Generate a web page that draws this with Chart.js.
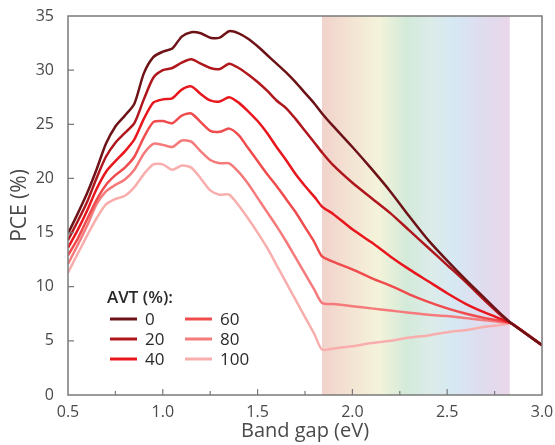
<!DOCTYPE html>
<html>
<head>
<meta charset="utf-8">
<script src="https://cdn.jsdelivr.net/npm/chart.js@4/dist/chart.umd.min.js"></script>
<style>
  html, body { margin: 0; padding: 0; background: #ffffff; }
  #wrap { position: relative; width: 555px; height: 445px; }
</style>
</head>
<body>
<div id="wrap"><canvas id="c" width="555" height="445"></canvas></div>
<script>
// ---------- data ----------
const bandGap = [0.5,0.55,0.6,0.65,0.7,0.75,0.8,0.85,0.9,0.95,
                 1.0,1.05,1.1,1.15,1.2,1.25,1.3,1.35,1.4,1.45,
                 1.5,1.55,1.6,1.65,1.7,1.75,1.8,1.84,
                 1.9,2.0,2.1,2.2,2.3,2.4,2.5,2.6,2.7,2.8,2.84,3.0];

const avtLabels = ['0','20','40','60','80','100'];

const pceAvt0   = [14.9,16.7,18.6,20.8,23.2,24.8,25.8,26.9,29.7,31.2,
                   31.7,32.0,33.1,33.5,33.4,33.0,33.0,33.6,33.4,32.9,
                   32.2,31.4,30.6,29.8,28.9,27.9,26.9,26.0,
                   24.8,22.9,20.9,18.8,16.5,14.3,12.4,10.6,8.9,7.2,6.6,4.6];
const pceAvt20  = [14.3,16.0,17.8,20.0,22.0,23.3,24.2,25.1,27.3,29.3,
                   30.0,30.2,30.7,31.0,30.6,30.2,30.1,30.6,30.2,29.6,
                   28.9,28.1,27.2,26.5,25.5,24.4,23.3,22.4,
                   21.2,19.6,18.2,16.8,15.2,13.6,12.0,10.4,8.7,7.1,6.6,4.6];
const pceAvt40  = [13.6,15.2,17.0,19.0,20.6,21.6,22.5,23.6,25.5,27.0,
                   27.3,27.4,28.2,28.5,27.8,27.2,27.1,27.5,27.0,26.2,
                   25.3,24.2,22.9,21.7,20.4,19.3,18.3,17.4,
                   16.7,15.3,14.1,12.8,11.6,10.5,9.4,8.4,7.6,6.9,6.6,4.6];
const pceAvt60  = [12.9,14.4,16.2,18.0,19.4,20.3,21.0,22.0,23.8,25.2,
                   25.3,25.1,25.8,26.0,25.2,24.4,24.3,24.6,24.0,22.8,
                   21.6,20.4,19.3,18.1,16.9,15.5,14.1,12.8,
                   12.3,11.6,10.8,10.1,9.3,8.6,8.0,7.5,7.1,6.8,6.6,4.6];
const pceAvt80  = [12.1,13.8,15.6,17.6,18.8,19.4,19.9,20.8,22.3,23.2,
                   23.1,22.9,23.5,23.4,22.5,21.7,21.4,21.4,20.6,19.5,
                   18.2,16.9,15.6,14.2,12.7,11.2,9.7,8.5,
                   8.4,8.2,8.0,7.8,7.6,7.4,7.3,7.1,6.9,6.7,6.6,4.6];
const pceAvt100 = [11.3,13.0,14.7,16.3,17.6,18.1,18.4,19.2,20.4,21.3,
                   21.3,20.8,21.2,21.0,20.0,18.9,18.5,18.5,17.5,16.3,
                   15.0,13.6,12.0,10.4,8.8,7.2,5.6,4.2,
                   4.3,4.5,4.8,5.0,5.3,5.5,5.8,6.0,6.3,6.5,6.6,4.6];

const xTickLabels = ['0.5','1.0','1.5','2.0','2.5','3.0'];
const yTickLabels = ['0','5','10','15','20','25','30','35'];
const visibleBand = [1.84, 2.83];   // shaded visible-spectrum window (eV)

// ---------- styling ----------
const seriesColors = ['#6d1216','#b0171d','#e8161d','#f04b4d','#f57a7b','#f9aeae'];
const allSeries = [pceAvt0, pceAvt20, pceAvt40, pceAvt60, pceAvt80, pceAvt100];
const FONT = "'Open Sans', 'DejaVu Sans', sans-serif";
const TEXT = '#4a4a4a';
const AXIS = '#7a7a7a';

const datasets = allSeries.map((vals, i) => ({
  label: avtLabels[i],
  data: bandGap.map((x, k) => ({ x: x, y: vals[k] })),
  borderColor: seriesColors[i],
  backgroundColor: seriesColors[i],
  borderWidth: 2.5,
  pointRadius: 0,
  tension: 0.25,
  fill: false
}));

const bandPlugin = {
  id: 'band',
  beforeDatasetsDraw(chart) {
    const { ctx, chartArea, scales } = chart;
    const x0 = scales.x.getPixelForValue(visibleBand[0]);
    const x1 = scales.x.getPixelForValue(visibleBand[1]);
    const g = ctx.createLinearGradient(x0, 0, x1, 0);
    g.addColorStop(0.00, '#f1d2cb');
    g.addColorStop(0.13, '#f3e1d2');
    g.addColorStop(0.30, '#f4f3da');
    g.addColorStop(0.45, '#d3ead9');
    g.addColorStop(0.58, '#dcece9');
    g.addColorStop(0.70, '#d6e8f3');
    g.addColorStop(0.86, '#dfdcee');
    g.addColorStop(1.00, '#ead7ea');
    ctx.save();
    ctx.fillStyle = g;
    ctx.fillRect(x0, chartArea.top, x1 - x0, chartArea.bottom - chartArea.top);
    ctx.restore();
  }
};

const framePlugin = {
  id: 'frame',
  afterDraw(chart) {
    const { ctx, chartArea: a, scales } = chart;
    ctx.save();
    ctx.strokeStyle = AXIS;
    ctx.lineWidth = 1.5;
    ctx.strokeRect(a.left, a.top, a.right - a.left, a.bottom - a.top);
    ctx.lineWidth = 1.2;
    ctx.beginPath();
    // x ticks (inward)
    for (let v = 0.75; v < 3.0; v += 0.25) {
      const px = scales.x.getPixelForValue(v);
      const major = Math.abs(v * 2 - Math.round(v * 2)) < 1e-6;
      const len = major ? 6 : 4;
      ctx.moveTo(px, a.bottom);
      ctx.lineTo(px, a.bottom - len);
    }
    // y ticks (inward)
    for (let v = 5; v < 35; v += 5) {
      const py = scales.y.getPixelForValue(v);
      ctx.moveTo(a.left, py);
      ctx.lineTo(a.left + 6, py);
    }
    ctx.stroke();
    ctx.restore();
  }
};

const legendPlugin = {
  id: 'avtLegend',
  afterDatasetsDraw(chart) {
    const { ctx, chartArea: a } = chart;
    const left = a.left + 39, top = a.top + 282;
    ctx.save();
    ctx.fillStyle = '#2a2a2a';
    ctx.font = "600 17px " + FONT;
    ctx.textBaseline = 'middle';
    ctx.textAlign = 'left';
    ctx.fillText('AVT (%):', left, top);
    ctx.font = "17px " + FONT;
    chart.data.datasets.forEach((ds, i) => {
      const col = Math.floor(i / 3), row = i % 3;
      const lx = left + 3 + col * 75;
      const ly = top + 21 + row * 20;
      ctx.strokeStyle = ds.borderColor;
      ctx.lineWidth = 3;
      ctx.beginPath();
      ctx.moveTo(lx, ly);
      ctx.lineTo(lx + 27, ly);
      ctx.stroke();
      ctx.fillStyle = '#2a2a2a';
      ctx.fillText(ds.label, lx + 35, ly + 1);
    });
    ctx.restore();
  }
};

new Chart(document.getElementById('c'), {
  type: 'line',
  data: { datasets: datasets },
  plugins: [bandPlugin, framePlugin, legendPlugin],
  options: {
    responsive: false,
    animation: false,
    layout: { padding: { left: 0, right: 13, top: 16, bottom: 0 } },
    plugins: { legend: { display: false }, tooltip: { enabled: false } },
    scales: {
      x: {
        type: 'linear', min: 0.5, max: 3.0,
        border: { display: false },
        grid: { display: false },
        afterFit: s => { s.height = 50; },
        ticks: {
          stepSize: 0.5, padding: 0, color: TEXT,
          font: { family: FONT, size: 16 },
          callback: (v) => xTickLabels.find(t => Math.abs(parseFloat(t) - v) < 1e-6) || ''
        },
        title: { display: true, text: 'Band gap (eV)', color: TEXT,
                 font: { family: FONT, size: 20 }, padding: { top: 0, bottom: 2 } }
      },
      y: {
        min: 0, max: 35,
        border: { display: false },
        grid: { display: false },
        afterFit: s => { s.width = 68; },
        ticks: {
          stepSize: 5, padding: 6, color: TEXT,
          font: { family: FONT, size: 16 },
          callback: (v) => yTickLabels.find(t => parseFloat(t) === v) || ''
        },
        title: { display: true, text: 'PCE (%)', color: TEXT,
                 font: { family: FONT, size: 21 }, padding: { top: 7, bottom: 0 } }
      }
    }
  }
});
</script>
</body>
</html>
